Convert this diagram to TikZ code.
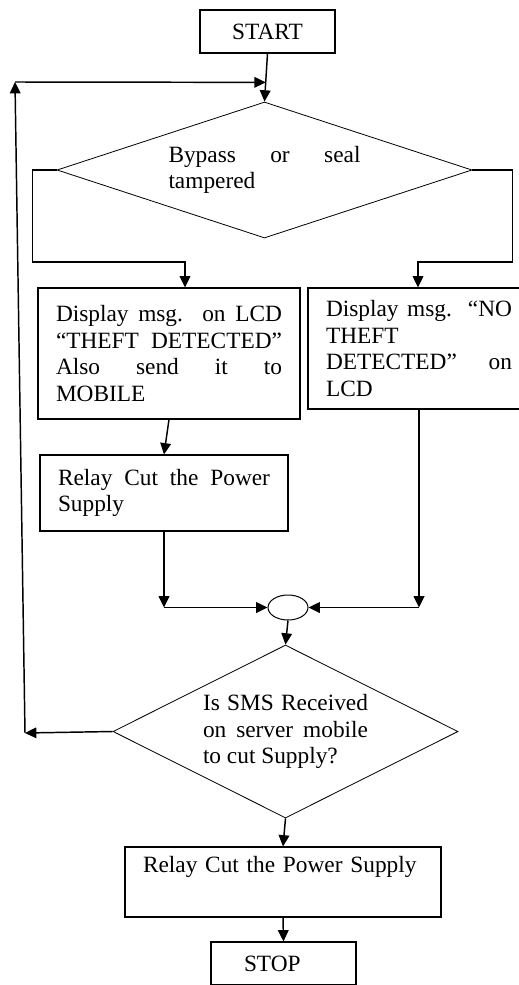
\documentclass[tikz,border=0pt]{standalone}
\usepackage{fontspec}
\setmainfont{Liberation Serif}
\usetikzlibrary{arrows.meta,shapes.geometric,calc}

\tikzset{
	box/.style={draw, line width=0.8pt, inner xsep=13.5pt, inner ysep=2pt, align=justify, font=\fontsize{17.5}{20}\selectfont},
	decision/.style={draw, diamond, line width=0.6pt, inner sep=0pt, align=justify, font=\fontsize{17.5}{20}\selectfont},
	joint/.style={draw, ellipse, line width=0.75pt, minimum width=30pt, minimum height=18.75pt, inner sep=0pt},
	arr/.style={line width=1.1pt, -{Triangle[length=8.5pt,width=8pt]}}
}

\begin{document}
\begin{tikzpicture}[x=0.75pt,y=0.75pt,yscale=-1,xscale=1]
		\useasboundingbox (0,0) rectangle (518,985);
		
		%Flowchart: Terminator
		\node[box, minimum width=101.25pt, minimum height=32.25pt, align=center] (start) at (267.5,31.5) {START};
		%Flowchart: Decision
		\node[decision, minimum width=311.25pt, minimum height=102pt, text width=144pt, shape aspect=3.05] (dec1) at (264.5,170) {Bypass or seal\linebreak tampered};
		%Flowchart: Process
		\node[box, text width=169.5pt, minimum height=98.25pt] (disp1) at (169,353.5) {Display msg. on LCD\linebreak “THEFT DETECTED”\linebreak Also send it to\linebreak MOBILE};
		%Flowchart: Process
		\node[box, text width=139.5pt, minimum height=90.75pt] (disp2) at (419,348.5) {Display msg. “NO\linebreak THEFT\linebreak DETECTED” on\linebreak LCD};
		%Flowchart: Process
		\node[box, text width=159pt, minimum height=57pt] (relay1) at (164,493) {Relay Cut the Power\linebreak Supply};
		%Flowchart: Connector
		\node[joint] (join) at (288,607.5) {};
		%Flowchart: Decision
		\node[decision, minimum width=258.75pt, minimum height=129.75pt, text width=123.75pt, shape aspect=2] (dec2) at (285.5,731.5) {Is SMS Received\linebreak on server mobile\linebreak to cut Supply?};
		%Flowchart: Process
		\node[box, text width=210pt, minimum height=52.5pt, align=left] (relay2) at (283,882) {Relay Cut the Power Supply\\ \strut};
		%Flowchart: Terminator
		\node[box, text width=59.25pt, inner xsep=24.75pt, minimum height=32.25pt, align=left] (stop) at (283.5,963.5) {STOP};
		
		% bend points
		\coordinate (j1) at ($(start.south)!0.6!(dec1.north)$);
		\coordinate (c1) at (25,733);
		\coordinate (c2) at (15,82);
		\coordinate (a1) at (185,262);
		\coordinate (a2) at (418,262);
		
		%Straight Lines
		\draw[arr] (start.south) -- (dec1.north);
		\draw[arr] (dec2.west) -- (c1);
		\draw[arr] (c1) -- (c2);
		\draw[arr] (c2) -- (j1);
		%Straight Lines
		\draw[arr] (dec1.west) -- ++(-24,0) |- (a1) -- (a1 |- disp1.north);
		\draw[arr] (dec1.east) -- ++(40,0) |- (a2) -- (a2 |- disp2.north);
		\draw[arr] (disp1.south) -- (relay1.north);
		%Straight Lines
		\draw[arr] (relay1.south) -- (relay1.south |- join.west);
		\draw[arr] (relay1.south |- join.west) -- (join.west);
		\draw[arr] (disp2.south) -- (disp2.south |- join.east);
		\draw[arr] (disp2.south |- join.east) -- (join.east);
		%Straight Lines
		\draw[arr] (join.south) -- (dec2.north);
		\draw[arr] (dec2.south) -- (relay2.north);
		\draw[arr] (relay2.south) -- (stop.north);
		
\end{tikzpicture}
\end{document}
